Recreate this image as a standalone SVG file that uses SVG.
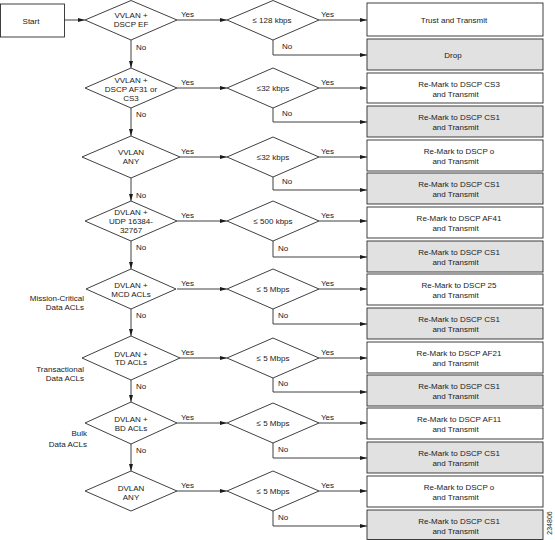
<svg xmlns="http://www.w3.org/2000/svg" width="555" height="540" viewBox="0 0 555 540">
<style>
text{font-family:"Liberation Sans",Arial,sans-serif;font-size:8px;fill:#1a1a1a}
.c{text-anchor:middle}
.r{text-anchor:end}
.shape{fill:#fff;stroke:#2a2a2a;stroke-width:0.9}
.grey{fill:#e1e1e1}
.ln{fill:none;stroke:#2a2a2a;stroke-width:0.9;marker-end:url(#ah)}
</style>
<defs>
<marker id="ah" viewBox="0 0 7 4" refX="7" refY="2" markerWidth="7" markerHeight="4" markerUnits="userSpaceOnUse" orient="auto">
<path d="M0,0 L7,2 L0,4 z" fill="#1a1a1a"/>
</marker>
</defs>
<rect width="555" height="540" fill="#fff"/>

<g id="connectors">
<path class="ln" d="M64,20 H85"/>
<path class="ln" d="M131,40 V68"/>
<path class="ln" d="M131,108 V136"/>
<path class="ln" d="M131,178 V201"/>
<path class="ln" d="M131,241 V269"/>
<path class="ln" d="M131,309 V336"/>
<path class="ln" d="M131,380 V402"/>
<path class="ln" d="M131,444 V471"/>
<path class="ln" d="M177,20 H227"/>
<path class="ln" d="M180,157 H227"/>
<path class="ln" d="M177,88 H227"/>
<path class="ln" d="M177,221 H227"/>
<path class="ln" d="M177,289 H227"/>
<path class="ln" d="M180,358 H227"/>
<path class="ln" d="M177,423 H227"/>
<path class="ln" d="M177,491 H227"/>
<path class="ln" d="M319,20 H367"/>
<path class="ln" d="M319,88 H367"/>
<path class="ln" d="M319,157 H367"/>
<path class="ln" d="M319,221 H367"/>
<path class="ln" d="M319,289 H367"/>
<path class="ln" d="M319,358 H367"/>
<path class="ln" d="M319,423 H367"/>
<path class="ln" d="M319,491 H367"/>
<path class="ln" d="M273,40 V55 H367"/>
<path class="ln" d="M273,108 V122 H367"/>
<path class="ln" d="M273,177 V190 H367"/>
<path class="ln" d="M273,241 V257 H367"/>
<path class="ln" d="M273,309 V324 H367"/>
<path class="ln" d="M273,378 V392 H367"/>
<path class="ln" d="M273,443 V458 H367"/>
<path class="ln" d="M273,511 V526 H367"/>
<text x="181" y="16.5">Yes</text>
<text x="181" y="84.5">Yes</text>
<text x="181" y="153.5">Yes</text>
<text x="181" y="217.5">Yes</text>
<text x="181" y="285.5">Yes</text>
<text x="181" y="354.5">Yes</text>
<text x="181" y="419.5">Yes</text>
<text x="181" y="487.5">Yes</text>
<text x="321" y="16.5">Yes</text>
<text x="321" y="84.5">Yes</text>
<text x="321" y="153.5">Yes</text>
<text x="321" y="217.5">Yes</text>
<text x="321" y="285.5">Yes</text>
<text x="321" y="354.5">Yes</text>
<text x="321" y="419.5">Yes</text>
<text x="321" y="487.5">Yes</text>
<text x="136" y="50">No</text>
<text x="136" y="117">No</text>
<text x="136" y="198">No</text>
<text x="136" y="250">No</text>
<text x="136" y="318">No</text>
<text x="136" y="389">No</text>
<text x="136" y="453">No</text>
<text x="282" y="49">No</text>
<text x="282" y="116">No</text>
<text x="282" y="184">No</text>
<text x="278" y="251">No</text>
<text x="278" y="318">No</text>
<text x="278" y="386">No</text>
<text x="278" y="452">No</text>
<text x="278" y="520">No</text>
</g>

<g id="start">
<rect class="shape" x="0.5" y="4" width="64" height="33"/>
<text class="c" x="31" y="24">Start</text>
</g>

<g id="d1"><path class="shape" d="M85,20 L131,0.5 L177,20 L131,40 z"/>
<text class="c" x="131" y="18.3">VVLAN +</text><text class="c" x="131" y="26.8">DSCP EF</text></g>
<g id="d2"><path class="shape" d="M85,88 L131,68 L177,88 L131,108 z"/>
<text class="c" x="131" y="83.3">VVLAN +</text><text class="c" x="131" y="92">DSCP AF31 or</text><text class="c" x="131" y="100.5">CS3</text></g>
<g id="d3"><path class="shape" d="M82,157 L131,136 L180,157 L131,178 z"/>
<text class="c" x="131" y="155">VVLAN</text><text class="c" x="131" y="164">ANY</text></g>
<g id="d4"><path class="shape" d="M85,221 L131,201 L177,221 L131,241 z"/>
<text class="c" x="131" y="215.3">DVLAN +</text><text class="c" x="131" y="224.3">UDP 16384-</text><text class="c" x="131" y="233.3">32767</text></g>
<g id="d5"><path class="shape" d="M86,289 L131,269 L176,289 L131,309 z"/>
<text class="c" x="131" y="288">DVLAN +</text><text class="c" x="131" y="296.5">MCD ACLs</text></g>
<g id="d6"><path class="shape" d="M82,358 L131,336 L180,358 L131,380 z"/>
<text class="c" x="131" y="356.7">DVLAN +</text><text class="c" x="131" y="365.3">TD ACLs</text></g>
<g id="d7"><path class="shape" d="M85,423 L131,402 L177,423 L131,444 z"/>
<text class="c" x="131" y="421.7">DVLAN +</text><text class="c" x="131" y="431">BD ACLs</text></g>
<g id="d8"><path class="shape" d="M85,491 L131,471 L177,491 L131,511 z"/>
<text class="c" x="131" y="491">DVLAN</text><text class="c" x="131" y="500">ANY</text></g>

<g id="r1"><path class="shape" d="M227,20 L273,0.5 L319,20 L273,40 z"/><text class="c" x="272" y="23">≤ 128 kbps</text></g>
<g id="r2"><path class="shape" d="M227,88 L273,68 L319,88 L273,108 z"/><text class="c" x="273" y="91">≤32 kbps</text></g>
<g id="r3"><path class="shape" d="M227,157 L273,137 L319,157 L273,177 z"/><text class="c" x="273" y="160">≤32 kbps</text></g>
<g id="r4"><path class="shape" d="M227,221 L273,201 L319,221 L273,241 z"/><text class="c" x="273" y="224">≤ 500 kbps</text></g>
<g id="r5"><path class="shape" d="M227,289 L273,269 L319,289 L273,309 z"/><text class="c" x="273" y="292">≤ 5 Mbps</text></g>
<g id="r6"><path class="shape" d="M227,358 L273,338 L319,358 L273,378 z"/><text class="c" x="273" y="361">≤ 5 Mbps</text></g>
<g id="r7"><path class="shape" d="M227,423 L273,403 L319,423 L273,443 z"/><text class="c" x="273" y="426">≤ 5 Mbps</text></g>
<g id="r8"><path class="shape" d="M227,491 L273,471 L319,491 L273,511 z"/><text class="c" x="273" y="494">≤ 5 Mbps</text></g>

<g id="b1"><rect class="shape" x="367" y="3" width="176" height="33"/><text class="c" x="454" y="23">Trust and Transmit</text></g>
<g id="b2"><rect class="shape grey" x="367" y="39" width="176" height="31"/><text class="c" x="453" y="57.5">Drop</text></g>
<g id="b3"><rect class="shape" x="367" y="73" width="176" height="30"/><text class="c" x="459" y="87">Re-Mark to DSCP CS3</text><text class="c" x="455.5" y="97">and Transmit</text></g>
<g id="b4"><rect class="shape grey" x="367" y="106" width="176" height="31"/><text class="c" x="459" y="120">Re-Mark to DSCP CS1</text><text class="c" x="455.5" y="130">and Transmit</text></g>
<g id="b5"><rect class="shape" x="367" y="140" width="176" height="31"/><text class="c" x="459" y="154">Re-Mark to DSCP o</text><text class="c" x="455.5" y="164">and Transmit</text></g>
<g id="b6"><rect class="shape grey" x="367" y="173" width="176" height="31"/><text class="c" x="459" y="187">Re-Mark to DSCP CS1</text><text class="c" x="455.5" y="197">and Transmit</text></g>
<g id="b7"><rect class="shape" x="367" y="207" width="176" height="31"/><text class="c" x="459" y="221">Re-Mark to DSCP AF41</text><text class="c" x="455.5" y="231">and Transmit</text></g>
<g id="b8"><rect class="shape grey" x="367" y="241" width="176" height="31"/><text class="c" x="459" y="255">Re-Mark to DSCP CS1</text><text class="c" x="455.5" y="265">and Transmit</text></g>
<g id="b9"><rect class="shape" x="367" y="274" width="176" height="31"/><text class="c" x="459" y="288">Re-Mark to DSCP 25</text><text class="c" x="455.5" y="298">and Transmit</text></g>
<g id="b10"><rect class="shape grey" x="367" y="308" width="176" height="31"/><text class="c" x="459" y="322">Re-Mark to DSCP CS1</text><text class="c" x="455.5" y="332">and Transmit</text></g>
<g id="b11"><rect class="shape" x="367" y="342" width="176" height="31"/><text class="c" x="459" y="356">Re-Mark to DSCP AF21</text><text class="c" x="455.5" y="366">and Transmit</text></g>
<g id="b12"><rect class="shape grey" x="367" y="375" width="176" height="31"/><text class="c" x="459" y="389">Re-Mark to DSCP CS1</text><text class="c" x="455.5" y="399">and Transmit</text></g>
<g id="b13"><rect class="shape" x="367" y="408" width="176" height="31"/><text class="c" x="459" y="422">Re-Mark to DSCP AF11</text><text class="c" x="455.5" y="432">and Transmit</text></g>
<g id="b14"><rect class="shape grey" x="367" y="442" width="176" height="31"/><text class="c" x="459" y="456">Re-Mark to DSCP CS1</text><text class="c" x="455.5" y="466">and Transmit</text></g>
<g id="b15"><rect class="shape" x="367" y="476" width="176" height="31"/><text class="c" x="459" y="490">Re-Mark to DSCP o</text><text class="c" x="455.5" y="500">and Transmit</text></g>
<g id="b16"><rect class="shape grey" x="367" y="510" width="176" height="29.5"/><text class="c" x="459" y="524">Re-Mark to DSCP CS1</text><text class="c" x="455.5" y="534">and Transmit</text></g>

<g id="labels">
<text class="r" x="84" y="301">Mission-Critical</text>
<text class="r" x="84" y="310">Data ACLs</text>
<text class="r" x="84" y="372">Transactional</text>
<text class="r" x="84" y="381">Data ACLs</text>
<text class="r" x="87" y="436">Bulk</text>
<text class="r" x="87" y="447">Data ACLs</text>
<text class="c" transform="translate(552,523) rotate(-90)" style="font-size:7px">234806</text>
</g>
</svg>
